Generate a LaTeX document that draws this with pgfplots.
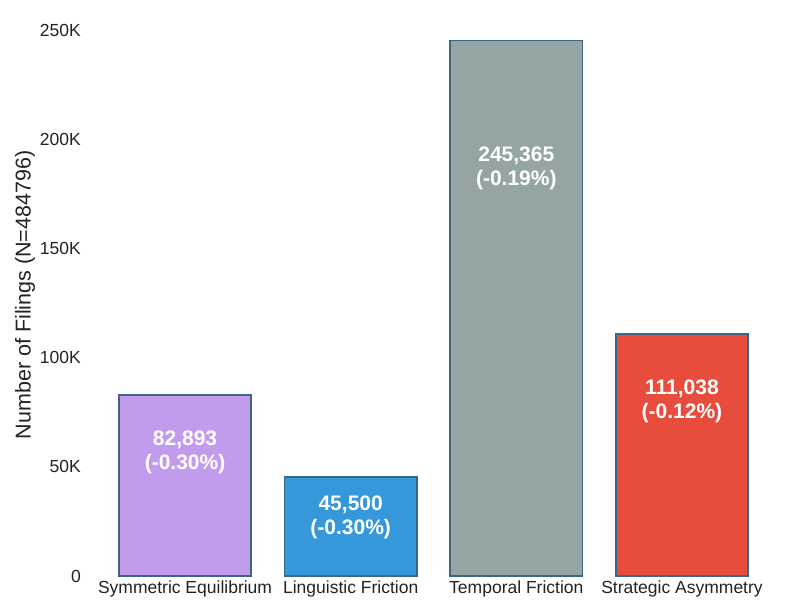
\documentclass[border=0pt]{standalone}
\usepackage{pgfplots}
\pgfplotsset{compat=1.18}
\usepackage{fontspec}
\setmainfont{Liberation Sans}
\definecolor{cpurple}{HTML}{C39BEC}
\definecolor{cblue}{HTML}{3498DB}
\definecolor{cgray}{HTML}{95A5A6}
\definecolor{cred}{HTML}{E74C3C}
\definecolor{cedge}{HTML}{3C6688}
\definecolor{ctext}{HTML}{222222}
\begin{document}
\begin{tikzpicture}[x=1bp,y=1bp]
\useasboundingbox (0,0) rectangle (793,612);
\begin{axis}[
  at={(87.3bp,36bp)}, anchor=south west,
  scale only axis,
  width=692.4bp, height=562.2bp,
  xmin=-0.59, xmax=3.59,
  ymin=0, ymax=257633,
  axis line style={draw=none},
  major tick length=0pt,
  xtick={0,1,2,3},
  xticklabels={Symmetric Equilibrium,Linguistic Friction,Temporal Friction,Strategic Asymmetry},
  ytick={0,50000,100000,150000,200000,250000},
  yticklabels={0,50K,100K,150K,200K,250K},
  scaled y ticks=false,
  tick label style={font=\fontsize{17.5bp}{21bp}\selectfont, text=ctext},
  xticklabel style={yshift=-1bp},
  yticklabel style={xshift=-3bp},
  ylabel={Number of Filings (N=484796)},
  ylabel style={font=\fontsize{21.5bp}{25bp}\selectfont, text=ctext, yshift=-2bp},
  /pgf/number format/assume math mode=true,
  clip=false,
]
\addplot[ybar, bar width=0.8, fill=cpurple, draw=cedge, line width=1.8bp] coordinates {(0,82893)};
\addplot[ybar, bar width=0.8, fill=cblue, draw=cedge, line width=1.8bp] coordinates {(1,45500)};
\addplot[ybar, bar width=0.8, fill=cgray, draw=cedge, line width=1.8bp] coordinates {(2,245365)};
\addplot[ybar, bar width=0.8, fill=cred, draw=cedge, line width=1.8bp] coordinates {(3,111038)};
\tikzset{bl/.style={text=white, font=\bfseries\fontsize{21bp}{24bp}\selectfont, align=center, inner sep=0pt}}
\node[bl] at (axis cs:0,56700) {82,893\\(-0.30\%)};
\node[bl] at (axis cs:1,26800) {45,500\\(-0.30\%)};
\node[bl] at (axis cs:2,187000) {245,365\\(-0.19\%)};
\node[bl] at (axis cs:3,80000) {111,038\\(-0.12\%)};
\end{axis}
\end{tikzpicture}
\end{document}
